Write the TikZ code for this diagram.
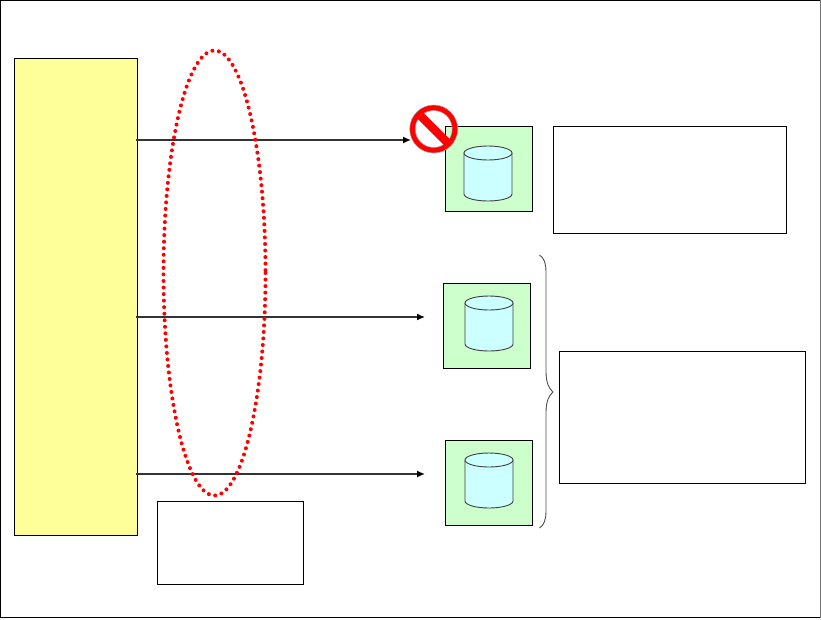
\documentclass[tikz,border=0pt]{standalone}
\usetikzlibrary{arrows.meta}
\definecolor{yel}{HTML}{FFFF99}
\definecolor{grn}{HTML}{CCFFCC}
\definecolor{cyl}{HTML}{CCFFFF}
\tikzset{
  x=1pt,y=-1pt,
  plainbox/.style={draw=black,line width=1pt,inner sep=0pt,outer sep=0pt,rectangle},
  storebox/.style={plainbox,fill=grn,minimum width=87pt,minimum height=84.5pt},
  link/.style={draw=black!80,line width=1.5pt,-{Latex[length=8pt,width=7pt,black]}},
  dbcyl/.pic={
    \draw[fill=cyl,draw=black!75,line width=0.9pt] (-24,-20.5) -- (-24,20.5) arc[start angle=180,end angle=0,x radius=24,y radius=7] -- (24,-20.5) -- cycle;
    \draw[fill=cyl,draw=black!75,line width=0.9pt] (0,-20.5) ellipse[x radius=24,y radius=7];
  }
}
\begin{document}
\begin{tikzpicture}
\useasboundingbox (0,0) rectangle (821,619);
\fill[white] (0,0) rectangle (821,619);
\draw[black,line width=1pt] (0.5,618) -- (0.5,0.5) -- (820,0.5);
\draw[black,line width=1pt] (0.5,617.5) -- (820,617.5);
\draw[black!55,line width=1pt] (820.5,0) -- (820.5,618);

\node[plainbox,fill=yel,minimum width=122.5pt,minimum height=477pt] (host) at (76,296.5) {};
\node[storebox] (s1) at (489,169) {};
\node[storebox] (s2) at (486.5,326) {};
\node[storebox] (s3) at (489,483) {};
\pic at (488,173.5) {dbcyl};
\pic at (489,323.5) {dbcyl};
\pic at (489,480.5) {dbcyl};

\node[plainbox,fill=white,minimum width=232.5pt,minimum height=106.5pt] (note1) at (670,180) {};
\node[plainbox,fill=white,minimum width=245.5pt,minimum height=131.5pt] (note2) at (682.5,417.5) {};
\node[plainbox,fill=white,minimum width=146pt,minimum height=82.5pt] (note3) at (230.5,543) {};

\coordinate (a1) at (136,140);
\coordinate (a2) at (136,317);
\coordinate (a3) at (136,474);
\coordinate (b1) at (411,140);
\coordinate (b2) at (425,317);
\coordinate (b3) at (425,474);
\draw[link] (a1) -- (b1);
\draw[link] (a2) -- (b2);
\draw[link] (a3) -- (b3);

\draw[red,line width=4pt,line cap=round,dash pattern=on 0pt off 6.55pt] (214.5,273) ellipse[x radius=51,y radius=222.5];

\coordinate (nosign) at (433.7,129);
\fill[red,even odd rule,draw=black!35,line width=0.5pt] (nosign) circle[radius=24] (nosign) circle[radius=18.5];
\fill[red,rotate around={-45:(nosign)}] (415,124.9) rectangle (452.5,133.1);

\draw[black!70,line width=0.9pt] (539.5,255) .. controls (544,258) and (546,263) .. (546,272)
  -- (546,372) .. controls (546,382) and (549,389) .. (553,392)
  .. controls (549,395) and (546,402) .. (546,412)
  -- (546,511) .. controls (546,520) and (544,525) .. (539.5,528);
\end{tikzpicture}
\end{document}
